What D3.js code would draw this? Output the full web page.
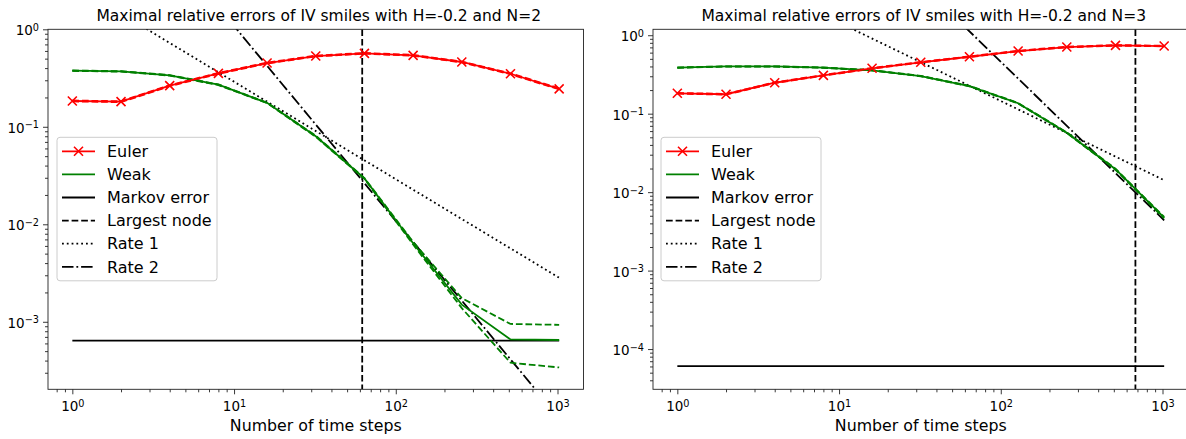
<!DOCTYPE html>
<meta charset="utf-8">
<title>Maximal relative errors of IV smiles</title>
<script src="https://d3js.org/d3.v7.min.js"></script>
<style>
  body { margin: 0; background: #fff; }
  text { font-family: "DejaVu Sans", sans-serif; fill: #000; }
</style>
<body>
<div id="chart"></div>
<script>
// number of time steps, shared by every series
var steps = [1, 2, 4, 8, 16, 32, 64, 128, 256, 512, 1024];
var rateSteps = [1, 1024];   // rate lines are straight in log-log, two ends are enough

// ---- H=-0.2, N=2 ----
var eulerN2   = [0.184, 0.181, 0.264, 0.353, 0.451, 0.532, 0.567, 0.541, 0.462, 0.350, 0.245];
var eulerN2Lo = [0.182, 0.179, 0.261, 0.349, 0.446, 0.527, 0.562, 0.536, 0.457, 0.346, 0.242];
var eulerN2Hi = [0.186, 0.183, 0.267, 0.357, 0.456, 0.537, 0.572, 0.546, 0.467, 0.354, 0.248];
var weakN2    = [0.376, 0.370, 0.337, 0.270, 0.176, 0.080, 0.0295, 0.0064, 0.00150, 0.00066, 0.00065];
var weakN2Lo  = [0.374, 0.368, 0.335, 0.268, 0.175, 0.079, 0.0292, 0.0062, 0.00138, 0.00038, 0.00034];
var weakN2Hi  = [0.378, 0.372, 0.339, 0.272, 0.177, 0.081, 0.0298, 0.0066, 0.00175, 0.00095, 0.00093];
var markovN2 = 6.4e-4;
var nodeN2 = 62;
var rate1N2 = [2.9, 0.00283];
var rate2N2 = [108, 0.000103];

// ---- H=-0.2, N=3 ----
var eulerN3   = [0.182, 0.177, 0.248, 0.308, 0.379, 0.452, 0.532, 0.629, 0.707, 0.743, 0.728];
var eulerN3Lo = [0.180, 0.175, 0.245, 0.305, 0.375, 0.448, 0.527, 0.623, 0.700, 0.736, 0.721];
var eulerN3Hi = [0.184, 0.179, 0.251, 0.311, 0.383, 0.456, 0.537, 0.635, 0.714, 0.750, 0.735];
var weakN3    = [0.386, 0.400, 0.400, 0.386, 0.357, 0.302, 0.225, 0.136, 0.0573, 0.0196, 0.00473];
var weakN3Lo  = [0.384, 0.398, 0.398, 0.384, 0.355, 0.300, 0.223, 0.135, 0.0568, 0.0193, 0.00462];
var weakN3Hi  = [0.388, 0.402, 0.402, 0.388, 0.359, 0.304, 0.227, 0.137, 0.0578, 0.0199, 0.00484];
var markovN3 = 6.06e-5;
var nodeN3 = 680;
var rate1N3 = [14.5, 0.0142];
var rate2N3 = [4590, 0.00438];

var legendLabels = ["Euler", "Weak", "Markov error", "Largest node", "Rate 1", "Rate 2"];

var W = 1186, H = 439;
var plotTop = 29.3, plotH = 360, plotW = 535.5;
var lw = 1.8;

var svg = d3.select("#chart").append("svg")
    .attr("width", W).attr("height", H);

var panels = [
  { id: "p2", title: "Maximal relative errors of IV smiles with H=-0.2 and N=2", left: 48,
    yDomain: [2.03e-4, 1], euler: eulerN2, eulerLo: eulerN2Lo, eulerHi: eulerN2Hi,
    weak: weakN2, weakLo: weakN2Lo, weakHi: weakN2Hi, markov: markovN2, node: nodeN2,
    rate1: rate1N2, rate2: rate2N2, legendX: 9 },
  { id: "p3", title: "Maximal relative errors of IV smiles with H=-0.2 and N=3", left: 653,
    yDomain: [3.07e-5, 1.19], euler: eulerN3, eulerLo: eulerN3Lo, eulerHi: eulerN3Hi,
    weak: weakN3, weakLo: weakN3Lo, weakHi: weakN3Hi, markov: markovN3, node: nodeN3,
    rate1: rate1N3, rate2: rate2N3, legendX: 8 }
];

function supLabel(sel, d) {
  var e = Math.round(Math.log10(d));
  sel.text("");
  sel.append("tspan").text("10");
  sel.append("tspan").attr("dy", "-0.45em").attr("font-size", "0.72em")
    .text(e < 0 ? "\u2212" + (-e) : e);
}

function minorTicks(domain) {
  var out = [];
  for (var p = -6; p <= 4; p++) {
    for (var k = 2; k <= 9; k++) {
      var v = k * Math.pow(10, p);
      if (v >= domain[0] && v <= domain[1]) out.push(v);
    }
  }
  return out;
}
function majorTicks(domain) {
  var out = [];
  for (var p = -6; p <= 4; p++) {
    var v = Math.pow(10, p);
    if (v >= domain[0] * 0.9999 && v <= domain[1] * 1.0001) out.push(v);
  }
  return out;
}

panels.forEach(function(P) {
  var g = svg.append("g").attr("transform", "translate(" + P.left + "," + plotTop + ")");

  var x = d3.scaleLog().domain([0.7071, 1448]).range([0, plotW]);
  var y = d3.scaleLog().domain(P.yDomain).range([plotH, 0]);

  g.append("clipPath").attr("id", "clip-" + P.id)
    .append("rect").attr("width", plotW).attr("height", plotH);

  // axes
  var xMaj = g.append("g").attr("transform", "translate(0," + plotH + ")")
    .call(d3.axisBottom(x).tickValues(majorTicks(x.domain())).tickSize(5).tickPadding(4));
  xMaj.selectAll(".tick text").attr("font-size", 13.5).attr("dy", "0.95em")
    .each(function(d) { supLabel(d3.select(this), d); });
  g.append("g").attr("transform", "translate(0," + plotH + ")")
    .call(d3.axisBottom(x).tickValues(minorTicks(x.domain())).tickSize(3).tickFormat(""));

  var yMaj = g.append("g")
    .call(d3.axisLeft(y).tickValues(majorTicks(y.domain())).tickSize(5).tickPadding(4));
  yMaj.selectAll(".tick text").attr("font-size", 13.5).attr("dy", "0.4em")
    .each(function(d) { supLabel(d3.select(this), d); });
  g.append("g")
    .call(d3.axisLeft(y).tickValues(minorTicks(y.domain())).tickSize(3).tickFormat(""));

  g.selectAll(".domain").remove();
  g.selectAll(".tick line").attr("stroke", "#222").attr("stroke-width", 0.9);

  var plot = g.append("g").attr("clip-path", "url(#clip-" + P.id + ")");
  var line = d3.line().x(function(d) { return x(d[0]); }).y(function(d) { return y(d[1]); });
  function pts(vals) { return steps.map(function(s, i) { return [s, vals[i]]; }); }

  // reference lines
  plot.append("path").attr("d", line([[1, P.markov], [1024, P.markov]]))
    .attr("fill", "none").attr("stroke", "#000").attr("stroke-width", lw);
  plot.append("line").attr("x1", x(P.node)).attr("x2", x(P.node)).attr("y1", 0).attr("y2", plotH)
    .attr("stroke", "#000").attr("stroke-width", lw).attr("stroke-dasharray", "6.7,2.9");
  plot.append("path").attr("d", line(rateSteps.map(function(s, i) { return [s, P.rate1[i]]; })))
    .attr("fill", "none").attr("stroke", "#000").attr("stroke-width", lw).attr("stroke-dasharray", "1.8,3");
  plot.append("path").attr("d", line(rateSteps.map(function(s, i) { return [s, P.rate2[i]]; })))
    .attr("fill", "none").attr("stroke", "#000").attr("stroke-width", lw).attr("stroke-dasharray", "11.5,2.9,1.8,2.9");

  // bounds (dashed) and main curves
  [P.eulerLo, P.eulerHi].forEach(function(b) {
    plot.append("path").attr("d", line(pts(b))).attr("fill", "none")
      .attr("stroke", "red").attr("stroke-width", lw).attr("stroke-dasharray", "6.7,2.9");
  });
  [P.weakLo, P.weakHi].forEach(function(b) {
    plot.append("path").attr("d", line(pts(b))).attr("fill", "none")
      .attr("stroke", "green").attr("stroke-width", lw).attr("stroke-dasharray", "6.7,2.9");
  });
  plot.append("path").attr("d", line(pts(P.weak))).attr("fill", "none")
    .attr("stroke", "green").attr("stroke-width", lw);
  plot.append("path").attr("d", line(pts(P.euler))).attr("fill", "none")
    .attr("stroke", "red").attr("stroke-width", lw);
  plot.selectAll(".mk").data(pts(P.euler)).enter().append("path")
    .attr("transform", function(d) { return "translate(" + x(d[0]) + "," + y(d[1]) + ")"; })
    .attr("d", "M-4.5,-4.5L4.5,4.5M-4.5,4.5L4.5,-4.5")
    .attr("stroke", "red").attr("stroke-width", 1.6).attr("fill", "none");

  // frame
  g.append("rect").attr("width", plotW).attr("height", plotH)
    .attr("fill", "none").attr("stroke", "#222").attr("stroke-width", 0.9);

  // title and x label
  g.append("text").attr("x", plotW / 2 + 3).attr("y", -8).attr("text-anchor", "middle")
    .attr("font-size", 15.5).text(P.title);
  g.append("text").attr("x", plotW / 2).attr("y", plotH + 42).attr("text-anchor", "middle")
    .attr("font-size", 15.8).text("Number of time steps");

  // legend
  var lg = g.append("g").attr("transform", "translate(" + P.legendX + ",108)");
  lg.append("rect").attr("width", 160).attr("height", 143.5).attr("rx", 3)
    .attr("fill", "#fff").attr("fill-opacity", 0.8).attr("stroke", "#ccc");
  var styles = [
    { c: "red", d: null, mk: true }, { c: "green", d: null }, { c: "#000", d: null },
    { c: "#000", d: "6.7,2.9" }, { c: "#000", d: "1.8,3" }, { c: "#000", d: "11.5,2.9,1.8,2.9" }
  ];
  legendLabels.forEach(function(lab, i) {
    var ry = 14 + i * 23.1;
    var s = styles[i];
    lg.append("line").attr("x1", 5).attr("x2", 38).attr("y1", ry).attr("y2", ry)
      .attr("stroke", s.c).attr("stroke-width", lw).attr("stroke-dasharray", s.d);
    if (s.mk) {
      lg.append("path").attr("transform", "translate(21.5," + ry + ")")
        .attr("d", "M-4.5,-4.5L4.5,4.5M-4.5,4.5L4.5,-4.5")
        .attr("stroke", "red").attr("stroke-width", 1.6);
    }
    lg.append("text").attr("x", 50).attr("y", ry).attr("dy", "0.36em")
      .attr("font-size", 16).text(lab);
  });
});
</script>
</body>
